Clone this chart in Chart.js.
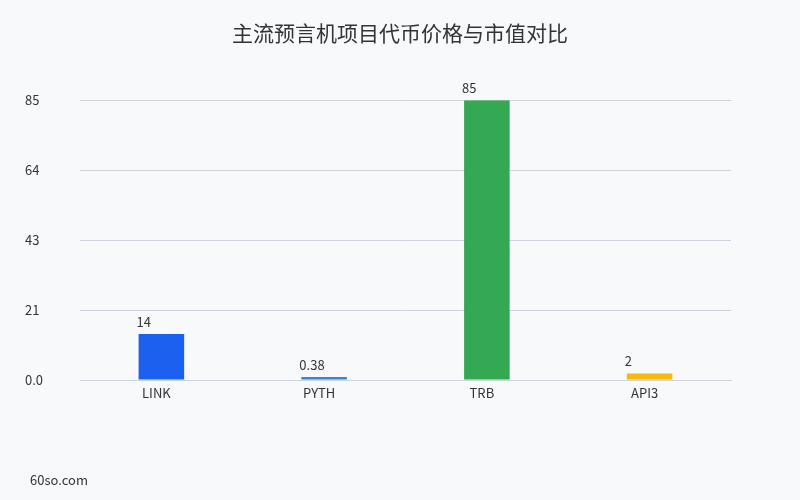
<!DOCTYPE html>
<html>
<head>
<meta charset="utf-8">
<script src="https://cdn.jsdelivr.net/npm/chart.js@4"></script>
<style>
    html, body { margin: 0; padding: 0; background: #f8f9fb; }
    #wrap { width: 800px; height: 500px; }
</style>
</head>
<body>
<div id="wrap"><canvas id="chart" width="800" height="500"></canvas></div>
<script>
// Chart data
const categories = ['LINK', 'PYTH', 'TRB', 'API3'];
const values = [14, 0.38, 85, 2];
const valueLabels = ['14', '0.38', '85', '2'];
const barColors = ['#1c60ef', '#3f7fdc', '#34a853', '#f6b90c'];
const yTickLabels = ['0.0', '21', '43', '64', '85'];

const FONT = '"Noto Sans CJK SC", "Noto Sans", sans-serif';
const TEXT = '#333333';

// value labels drawn above each bar, starting at its left edge
const barLabels = {
    id: 'barLabels',
    afterDatasetsDraw(chart) {
        const ctx = chart.ctx;
        const meta = chart.getDatasetMeta(0);
        ctx.save();
        ctx.font = '13px ' + FONT;
        ctx.fillStyle = TEXT;
        ctx.textAlign = 'left';
        ctx.textBaseline = 'alphabetic';
        meta.data.forEach((bar, i) => {
            ctx.fillText(valueLabels[i], bar.x - bar.width / 2 - 2, bar.y - 7);
        });
        ctx.restore();
    }
};

// site mark in the lower left corner
const watermark = {
    id: 'watermark',
    afterDraw(chart) {
        const ctx = chart.ctx;
        ctx.save();
        ctx.font = '13px ' + FONT;
        ctx.fillStyle = TEXT;
        ctx.textAlign = 'left';
        ctx.textBaseline = 'middle';
        ctx.fillText('60so.com', 30, 480);
        ctx.restore();
    }
};

const bgFill = {
    id: 'bgFill',
    beforeDraw(chart) {
        const ctx = chart.ctx;
        ctx.save();
        ctx.fillStyle = '#f8f9fb';
        ctx.fillRect(0, 0, chart.width, chart.height);
        ctx.restore();
    }
};

new Chart(document.getElementById('chart').getContext('2d'), {
    type: 'bar',
    data: {
        labels: categories,
        datasets: [{
            data: values,
            backgroundColor: barColors,
            borderWidth: 0,
            barPercentage: 0.28,
            categoryPercentage: 1,
            minBarLength: 3
        }]
    },
    options: {
        responsive: false,
        animation: false,
        layout: {
            padding: { left: 25, right: 25, top: 0, bottom: 0 }
        },
        scales: {
            x: {
                grid: { display: false, drawTicks: false },
                border: { display: true, color: '#cdd3dd' },
                ticks: {
                    color: TEXT,
                    font: { family: FONT, size: 13 },
                    padding: 5,
                    labelOffset: -5
                },
                afterFit(scale) { scale.height = 120; }
            },
            y: {
                min: 0,
                max: 85,
                grid: { color: '#cdd3dd', drawTicks: false },
                border: { display: false },
                ticks: {
                    stepSize: 21.25,
                    color: TEXT,
                    font: { family: FONT, size: 13 },
                    crossAlign: 'far',
                    callback: (value, index) => yTickLabels[index]
                },
                afterFit(scale) { scale.width = 55; }
            },
            // empty right-hand spacer so the plot ends where the original does
            spacer: {
                type: 'linear',
                position: 'right',
                display: true,
                grid: { display: false, drawTicks: false },
                border: { display: false },
                ticks: { display: false },
                afterFit(scale) { scale.width = 44; }
            }
        },
        plugins: {
            legend: { display: false },
            tooltip: { enabled: false },
            title: {
                display: true,
                text: '主流预言机项目代币价格与市值对比',
                color: TEXT,
                font: { family: FONT, size: 21, weight: 'normal' },
                padding: { top: 20, bottom: 55 }
            }
        }
    },
    plugins: [bgFill, barLabels, watermark]
});
</script>
</body>
</html>
